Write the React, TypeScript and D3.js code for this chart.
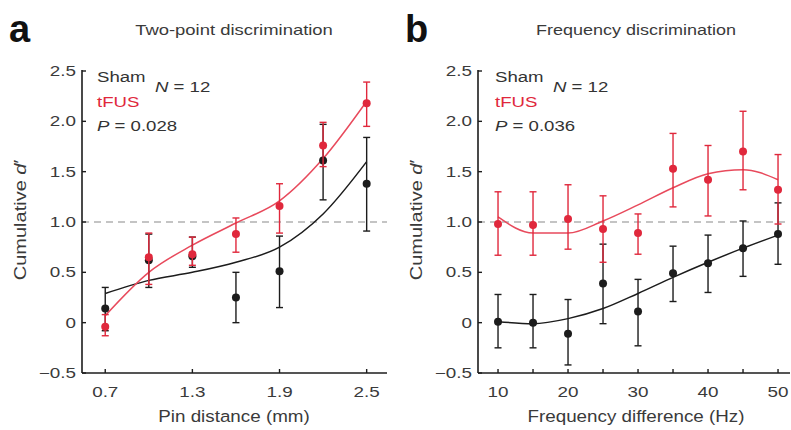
import React from "react";
import * as d3 from "d3";

// ---------- data ----------
const pinDist = [0.7, 1.0, 1.3, 1.6, 1.9, 2.2, 2.5];
const pinTicks = [0.7, 1.3, 1.9, 2.5];
const shamA = [0.14, 0.62, 0.66, 0.25, 0.51, 1.61, 1.38];
const shamAHi = [0.35, 0.88, 0.85, 0.5, 0.86, 1.97, 1.84];
const shamALo = [-0.08, 0.35, 0.55, 0.0, 0.15, 1.22, 0.91];
const tfusA = [-0.04, 0.65, 0.68, 0.88, 1.16, 1.76, 2.18];
const tfusAHi = [0.08, 0.89, 0.85, 1.04, 1.38, 1.99, 2.39];
const tfusALo = [-0.13, 0.38, 0.57, 0.7, 0.89, 1.55, 1.95];
const fitShamA = [0.29, 0.42, 0.5, 0.6, 0.75, 1.08, 1.6];
const fitTfusA = [0.07, 0.5, 0.77, 0.99, 1.21, 1.63, 2.2];

const freq = [10, 15, 20, 25, 30, 35, 40, 45, 50];
const freqTicks = [10, 15, 20, 25, 30, 35, 40, 45, 50];
const freqLabels = [10, 20, 30, 40, 50];
const shamB = [0.01, 0.0, -0.11, 0.39, 0.11, 0.49, 0.59, 0.74, 0.88];
const shamBHi = [0.28, 0.28, 0.23, 0.78, 0.43, 0.76, 0.87, 1.01, 1.19];
const shamBLo = [-0.25, -0.25, -0.42, -0.01, -0.23, 0.21, 0.3, 0.46, 0.58];
const tfusB = [0.98, 0.97, 1.03, 0.93, 0.89, 1.53, 1.42, 1.7, 1.32];
const tfusBHi = [1.3, 1.3, 1.37, 1.26, 1.08, 1.88, 1.76, 2.1, 1.67];
const tfusBLo = [0.67, 0.67, 0.73, 0.6, 0.68, 1.15, 1.06, 1.32, 0.98];
const fitShamB = [0.01, -0.01, 0.04, 0.14, 0.29, 0.45, 0.6, 0.74, 0.87];
const fitTfusB = [1.05, 0.89, 0.89, 1.01, 1.17, 1.34, 1.48, 1.52, 1.42];

const yTicks = [-0.5, 0, 0.5, 1.0, 1.5, 2.0, 2.5];

// ---------- style ----------
const FONT = "'Liberation Sans', Arial, Helvetica, sans-serif";
const TXT = "#3a3a3a";
const RED = "#e0283c";
const RED_LINE = "#e84a5c";
const BLACK = "#1c1c1c";

type TxtProps = {
  x: number;
  y: number;
  size: number;
  sx?: number;
  anchor?: "start" | "middle" | "end";
  fill?: string;
  rotate?: number;
  weight?: string | number;
  children: React.ReactNode;
};
function Txt({ x, y, size, sx = 1, anchor = "start", fill = TXT, rotate = 0, weight = "normal", children }: TxtProps) {
  return (
    <text
      transform={`translate(${x},${y}) rotate(${rotate}) scale(${sx},1)`}
      textAnchor={anchor}
      fontSize={size}
      fill={fill}
      fontFamily={FONT}
      fontWeight={weight}
    >
      {children}
    </text>
  );
}

function fmtY(v: number) {
  if (v === 0) return "0";
  const s = v.toFixed(1);
  return v < 0 ? "\u2212" + s.slice(1) : s;
}

type PanelProps = {
  x0: number;
  x1: number;
  xDomain: [number, number];
  xs: number[];
  ticks: number[];
  labels: number[];
  labelFmt: (v: number) => string;
  sham: number[];
  shamHi: number[];
  shamLo: number[];
  tfus: number[];
  tfusHi: number[];
  tfusLo: number[];
  fitSham: number[];
  fitTfus: number[];
};

function Panel(p: PanelProps) {
  const yTop = 71;
  const yBot = 373;
  const x = d3.scaleLinear().domain(p.xDomain).range([p.x0, p.x1]);
  const y = d3.scaleLinear().domain([-0.5, 2.5]).range([yBot, yTop]);
  const line = d3
    .line<number>()
    .x((_, i) => x(p.xs[i]))
    .y((d) => y(d))
    .curve(d3.curveMonotoneX);

  const series = (vals: number[], hi: number[], lo: number[], color: string) => (
    <g>
      {vals.map((v, i) => (
        <g key={i}>
          <line x1={x(p.xs[i])} x2={x(p.xs[i])} y1={y(hi[i])} y2={y(lo[i])} stroke={color} strokeWidth={1.4} />
          <line x1={x(p.xs[i]) - 3.5} x2={x(p.xs[i]) + 3.5} y1={y(hi[i])} y2={y(hi[i])} stroke={color} strokeWidth={1.4} />
          <line x1={x(p.xs[i]) - 3.5} x2={x(p.xs[i]) + 3.5} y1={y(lo[i])} y2={y(lo[i])} stroke={color} strokeWidth={1.4} />
          <circle cx={x(p.xs[i])} cy={y(v)} r={4} fill={color} />
        </g>
      ))}
    </g>
  );

  return (
    <g>
      {/* reference line */}
      <line x1={p.x0} x2={p.x1} y1={y(1)} y2={y(1)} stroke="#8a8a8a" strokeWidth={1.2} strokeDasharray="7,5" />
      {/* fits */}
      <path d={line(p.fitSham) || ""} fill="none" stroke={BLACK} strokeWidth={1.5} />
      <path d={line(p.fitTfus) || ""} fill="none" stroke={RED_LINE} strokeWidth={1.5} />
      {series(p.sham, p.shamHi, p.shamLo, BLACK)}
      {series(p.tfus, p.tfusHi, p.tfusLo, RED)}
      {/* axes */}
      <line x1={p.x0} x2={p.x0} y1={yTop - 1} y2={yBot} stroke={BLACK} strokeWidth={1.6} />
      <line x1={p.x0} x2={p.x1} y1={yBot} y2={yBot} stroke={BLACK} strokeWidth={1.6} />
      {yTicks.map((t) => (
        <g key={t}>
          <line x1={p.x0} x2={p.x0 + 4} y1={y(t)} y2={y(t)} stroke={BLACK} strokeWidth={1.4} />
          <Txt x={p.x0 - 6} y={y(t) + 5} size={14.5} sx={1.3} anchor="end">
            {fmtY(t)}
          </Txt>
        </g>
      ))}
      {p.ticks.map((t) => (
        <line key={t} x1={x(t)} x2={x(t)} y1={yBot} y2={yBot - 4} stroke={BLACK} strokeWidth={1.4} />
      ))}
      {p.labels.map((t) => (
        <Txt key={t} x={x(t)} y={397} size={14.5} sx={1.3} anchor="middle">
          {p.labelFmt(t)}
        </Txt>
      ))}
    </g>
  );
}

function Legend({ x, pText }: { x: number; pText: string }) {
  return (
    <g>
      <Txt x={x} y={82} size={15.5} sx={1.2} fill="#333">Sham</Txt>
      <Txt x={x + 58} y={92} size={15.5} sx={1.2} fill="#333">
        <tspan fontStyle="italic">N</tspan> = 12
      </Txt>
      <Txt x={x} y={107} size={15.5} sx={1.2} fill={RED}>tFUS</Txt>
      <Txt x={x} y={131} size={15.5} sx={1.2} fill="#333">
        <tspan fontStyle="italic">P</tspan> = {pText}
      </Txt>
    </g>
  );
}

export default function App() {
  return (
    <svg
      width={791}
      height={430}
      viewBox="0 0 791 430"
      style={{ position: "absolute", left: 0, top: 0, background: "#fff" }}
    >
      <rect width={791} height={430} fill="#fff" />
      {/* panel letters */}
      <Txt x={9} y={42} size={38} weight="bold" fill="#111">a</Txt>
      <Txt x={405} y={42} size={38} weight="bold" fill="#111">b</Txt>
      {/* titles */}
      <Txt x={234} y={35} size={15} sx={1.23} anchor="middle">Two-point discrimination</Txt>
      <Txt x={636} y={35} size={15} sx={1.2} anchor="middle">Frequency discrimination</Txt>

      <Panel
        x0={82}
        x1={387}
        xDomain={[0.54, 2.64]}
        xs={pinDist}
        ticks={pinTicks}
        labels={pinTicks}
        labelFmt={(v) => v.toFixed(1)}
        sham={shamA}
        shamHi={shamAHi}
        shamLo={shamALo}
        tfus={tfusA}
        tfusHi={tfusAHi}
        tfusLo={tfusALo}
        fitSham={fitShamA}
        fitTfus={fitTfusA}
      />
      <Panel
        x0={478}
        x1={790}
        xDomain={[7.14, 51.71]}
        xs={freq}
        ticks={freqTicks}
        labels={freqLabels}
        labelFmt={(v) => String(v)}
        sham={shamB}
        shamHi={shamBHi}
        shamLo={shamBLo}
        tfus={tfusB}
        tfusHi={tfusBHi}
        tfusLo={tfusBLo}
        fitSham={fitShamB}
        fitTfus={fitTfusB}
      />

      <Legend x={97} pText="0.028" />
      <Legend x={495} pText="0.036" />

      {/* axis titles */}
      <Txt x={234} y={422} size={16.5} sx={1.14} anchor="middle">Pin distance (mm)</Txt>
      <Txt x={636} y={422} size={16.5} sx={1.14} anchor="middle">Frequency difference (Hz)</Txt>
      <Txt x={26} y={220} size={16} sx={1.25} anchor="middle" rotate={-90}>
        Cumulative <tspan fontStyle="italic">d</tspan>′
      </Txt>
      <Txt x={422} y={220} size={16} sx={1.25} anchor="middle" rotate={-90}>
        Cumulative <tspan fontStyle="italic">d</tspan>′
      </Txt>
    </svg>
  );
}
